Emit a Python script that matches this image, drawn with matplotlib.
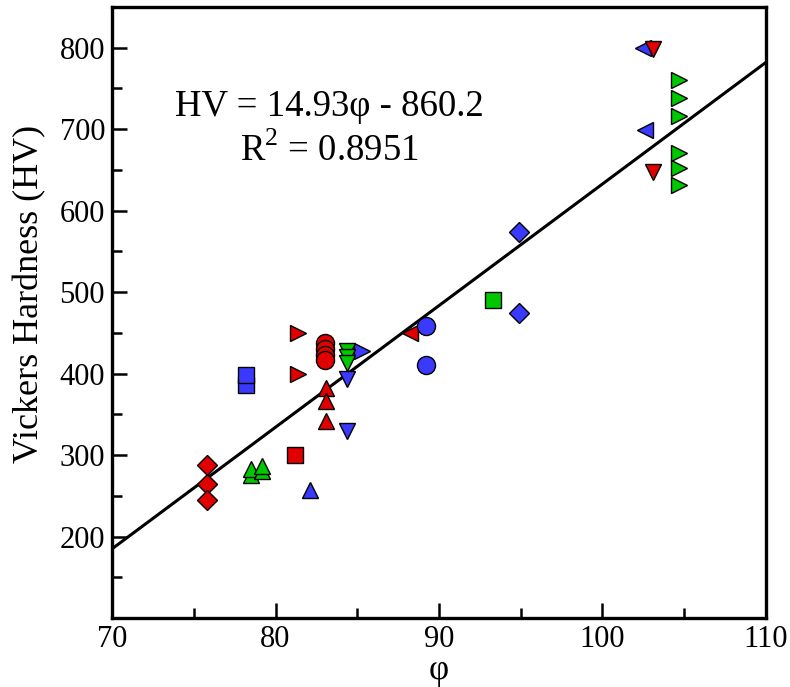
import numpy as np
import matplotlib
matplotlib.use('Agg')
import matplotlib.pyplot as plt

# colours used in the original figure
RED = '#e00000'
BLUE = '#3a3aff'
GREEN = '#00c800'

# data, one group per marker/colour
red_diamond_x = [75.8, 75.8, 75.8]
red_diamond_y = [288, 265, 245]
green_up_x = [78.5, 78.5, 79.2, 79.2]
green_up_y = [276, 283, 280, 287]
red_square_x = [81.2]
red_square_y = [300]
blue_up_x = [82.1]
blue_up_y = [257]
blue_square_x = [78.2, 78.2]
blue_square_y = [386, 398]
red_right_x = [81.4, 81.4]
red_right_y = [450, 400]
red_circle_x = [83.0, 83.0, 83.0, 83.0]
red_circle_y = [437, 430, 423, 417]
green_down_x = [84.4, 84.4, 84.4]
green_down_y = [428, 420, 413]
blue_right_x = [85.3]
blue_right_y = [428]
blue_down_x = [84.4, 84.4]
blue_down_y = [394, 330]
red_up_x = [83.1, 83.1, 83.1]
red_up_y = [382, 367, 342]
red_left_x = [88.2]
red_left_y = [450]
blue_circle_x = [89.2, 89.2]
blue_circle_y = [459, 410]
green_square_x = [93.3]
green_square_y = [490]
blue_diamond_x = [94.9, 94.9]
blue_diamond_y = [574, 475]
blue_left_x = [102.5, 102.6]
blue_left_y = [800, 699]
red_down_x = [103.1, 103.1]
red_down_y = [798, 648]
green_right_x = [104.7, 104.7, 104.7, 104.7, 104.7, 104.7]
green_right_y = [761, 738, 716, 671, 652, 632]

# linear fit from the figure
slope = 14.93
intercept = -860.2

plt.rcParams['font.family'] = ['Liberation Serif', 'DejaVu Serif']
plt.rcParams['mathtext.fontset'] = 'custom'
plt.rcParams['mathtext.rm'] = 'Liberation Serif'

fig = plt.figure(figsize=(7.9, 6.87), dpi=100)
ax = fig.add_axes([0.1418, 0.1004, 0.8278, 0.8894])

fit_x = np.array([70, 110])
ax.plot(fit_x, slope * fit_x + intercept, color='black', lw=2.2, zorder=1)

groups = [
    (red_diamond_x, red_diamond_y, RED, 'D', 10),
    (green_up_x, green_up_y, GREEN, '^', 11.5),
    (red_square_x, red_square_y, RED, 's', 11),
    (blue_up_x, blue_up_y, BLUE, '^', 11.5),
    (blue_square_x, blue_square_y, BLUE, 's', 11),
    (red_right_x, red_right_y, RED, '>', 11.5),
    (red_circle_x, red_circle_y, RED, 'o', 13),
    (blue_right_x, blue_right_y, BLUE, '>', 11.5),
    (green_down_x, green_down_y, GREEN, 'v', 11.5),
    (blue_down_x, blue_down_y, BLUE, 'v', 11.5),
    (red_up_x, red_up_y, RED, '^', 11.5),
    (red_left_x, red_left_y, RED, '<', 11.5),
    (blue_circle_x, blue_circle_y, BLUE, 'o', 13),
    (green_square_x, green_square_y, GREEN, 's', 11),
    (blue_diamond_x, blue_diamond_y, BLUE, 'D', 10),
    (blue_left_x, blue_left_y, BLUE, '<', 11.5),
    (red_down_x, red_down_y, RED, 'v', 11.5),
    (green_right_x, green_right_y, GREEN, '>', 11.5),
]
for gx, gy, col, mk, ms in groups:
    ax.plot(gx, gy, linestyle='none', marker=mk, markersize=ms,
            markerfacecolor=col, markeredgecolor='black', markeredgewidth=1.0, zorder=3)

ax.set_xlim(70, 110)
ax.set_ylim(100, 850)
ax.set_xticks([70, 80, 90, 100, 110])
ax.set_xticks([75, 85, 95, 105], minor=True)
ax.set_yticks([200, 300, 400, 500, 600, 700, 800])
ax.set_yticks(np.arange(150, 850, 100), minor=True)
ax.tick_params(which='both', direction='in', width=1.8, labelsize=22, pad=5)
ax.tick_params(which='major', length=11)
ax.tick_params(which='minor', length=7)
for sp in ax.spines.values():
    sp.set_linewidth(2.4)

ax.set_xlabel('φ', fontsize=25, labelpad=0)
ax.set_ylabel('Vickers Hardness (HV)', fontsize=26)
ax.yaxis.set_label_coords(-0.1, 0.53)

# fit equation
ax.text(0.333, 0.836, 'HV = 14.93φ - 860.2', transform=ax.transAxes,
        fontsize=26.5, ha='center', va='center')
ax.text(0.333, 0.764, 'R$^{\\mathregular{2}}$ = 0.8951', transform=ax.transAxes,
        fontsize=26.5, ha='center', va='center')

fig.savefig('out.png', dpi=100)
